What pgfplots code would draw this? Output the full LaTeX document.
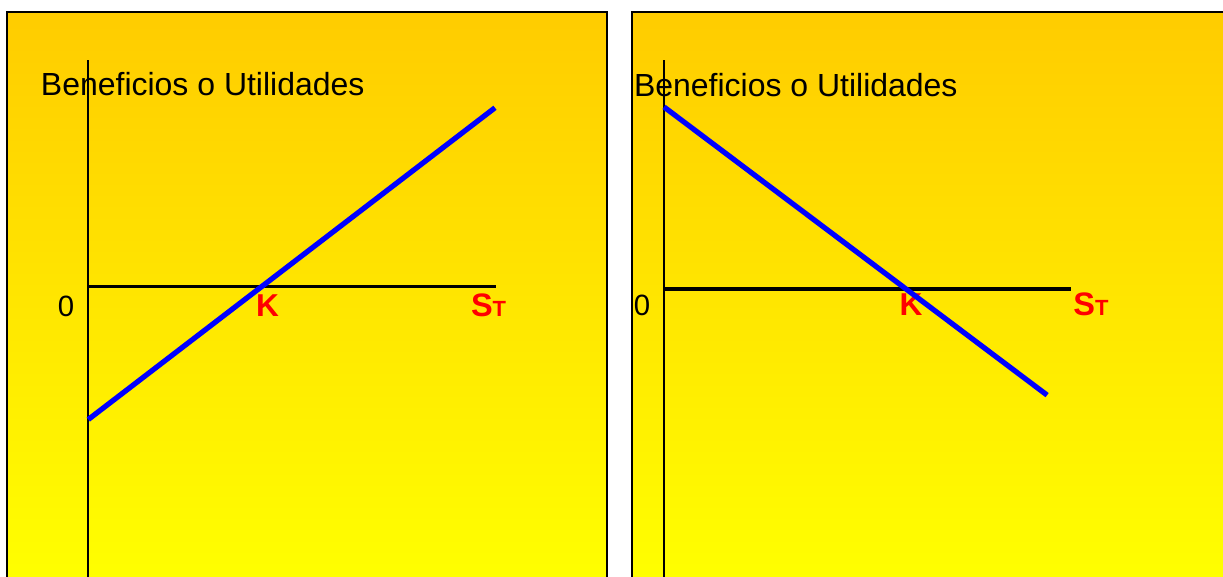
\documentclass[border=0pt]{standalone}
\usepackage{fontspec}
\setmainfont{Liberation Sans}
\usepackage{pgfplots}
\pgfplotsset{compat=1.18}

\definecolor{panelTop}{RGB}{255,204,0}
\definecolor{panelBot}{RGB}{255,255,0}

% payoff diagram axes: only the two crossing lines, no ticks
\pgfplotsset{payoff/.style={
  axis lines=middle,
  axis line style={-, black},
  x axis line style={line width=1.9pt},
  y axis line style={line width=1pt},
  xtick=\empty, ytick=\empty,
  clip=false, anchor=origin,
}}
\tikzset{lab/.style={inner sep=0pt, outer sep=0pt}}
\newcommand{\lbl}{\fontsize{16.7}{18}\selectfont}
\newcommand{\ttl}{\fontsize{18.2}{20}\selectfont}
\newcommand{\KK}{{\fontsize{18}{20}\selectfont\bfseries K}}
\newcommand{\ST}{{\fontsize{18.5}{20}\selectfont\bfseries S}{\fontsize{12.5}{14}\selectfont\bfseries T}}

\begin{document}
\begin{tikzpicture}
% the two slide panels (1px = 0.02cm)
\shade[top color=panelTop, bottom color=panelBot] (0.14,-0.24) rectangle (12.14,-11.6);
\draw[line width=1.1pt] (0.14,-11.6) -- (0.14,-0.24) -- (12.14,-0.24) -- (12.14,-11.6);
\shade[top color=panelTop, bottom color=panelBot] (12.64,-0.24) rectangle (24.8,-11.6);
\draw[line width=1.1pt] (12.64,-11.6) -- (12.64,-0.24) -- (24.8,-0.24);

% long position: profit = S_T - K
\begin{axis}[payoff, at={(1.766cm,-5.73cm)},
  x=0.0347cm, y=0.0266cm,
  xmin=0, xmax=235, ymin=-240, ymax=170.7]
\addplot[blue, line width=3pt] coordinates {(0,-100) (234.4,134.4)};
\node[lab, anchor=base west, font=\ttl] at (-27.3,144) {Beneficios o Utilidades};
\node[lab, anchor=base, font=\lbl] at (-12.9,-22.2) {0};
\node[lab, anchor=base, text=red] at (103.3,-22.2) {\KK};
\node[lab, anchor=base, text=red] at (230.7,-22.2) {\ST};
\end{axis}

% short position: profit = K - S_T
\begin{axis}[payoff, at={(13.28cm,-5.78cm)},
  x=0.0484cm, y=0.0364cm,
  xmin=0, xmax=168.2, ymin=-175, ymax=125.8]
\node[lab, anchor=base, text=red] at (102.1,-14.8) {\KK};
\addplot[blue, line width=3pt] coordinates {(0,100) (158.3,-58.3)};
\node[lab, anchor=base west, font=\ttl] at (-12.4,105.5) {Beneficios o Utilidades};
\node[lab, anchor=base, font=\lbl] at (-9.1,-14.8) {0};
\node[lab, anchor=base, text=red] at (176.4,-14.8) {\ST};
\end{axis}

\pgfresetboundingbox
\useasboundingbox (0,0) rectangle (24.46,-11.52);
\end{tikzpicture}
\end{document}
